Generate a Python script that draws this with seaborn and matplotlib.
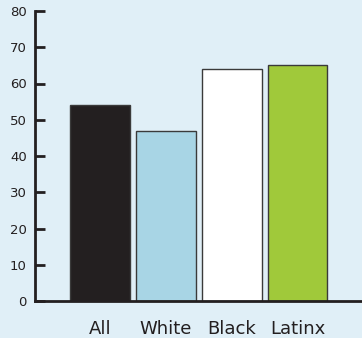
import matplotlib
matplotlib.use("Agg")
import matplotlib.pyplot as plt
import seaborn as sns
import pandas as pd

groups = ["All", "White", "Black", "Latinx"]
values = [54, 47, 64, 65]
bar_colors = ["#231f20", "#a8d5e5", "#ffffff", "#a0c93a"]
y_ticks = [0, 10, 20, 30, 40, 50, 60, 70, 80]

bg = "#e0eff7"
ink = "#231f20"

sns.set_theme(style="white")
plt.rcParams["font.family"] = ["DejaVu Sans"]

fig = plt.figure(figsize=(3.62, 3.38), dpi=100, facecolor=bg)
ax = fig.add_axes([35 / 362, 37 / 338, 327 / 362, 290 / 338])
ax.set_facecolor(bg)

df = pd.DataFrame({"group": groups, "value": values})
sns.barplot(data=df, x="group", y="value", hue="group", palette=bar_colors,
            saturation=1, width=0.91, edgecolor="#3a3a3a", linewidth=1.0,
            legend=False, ax=ax, zorder=2)

ax.set_xlim(-0.99, 3.98)
ax.set_ylim(0, 80)
ax.set_yticks(y_ticks)
ax.set_xlabel("")
ax.set_ylabel("")

for side in ["top", "right"]:
    ax.spines[side].set_visible(False)
for side in ["left", "bottom"]:
    ax.spines[side].set_color(ink)
    ax.spines[side].set_linewidth(2)

ax.tick_params(axis="y", direction="in", length=7, width=2, color=ink,
               labelsize=9.5, labelcolor=ink, pad=6, left=True)
ax.tick_params(axis="x", length=0, labelsize=13, labelcolor=ink, pad=14)

fig.savefig("out.png", dpi=100, facecolor=bg)
